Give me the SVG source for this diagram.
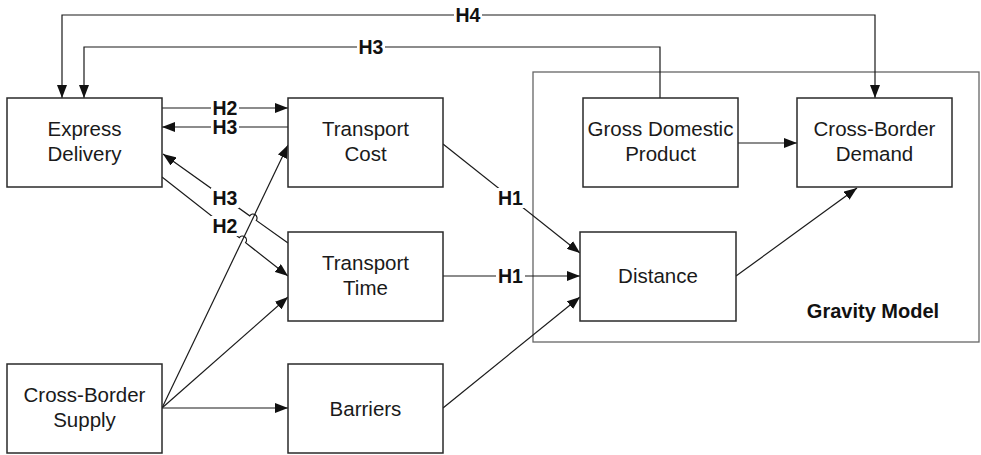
<svg xmlns="http://www.w3.org/2000/svg" width="981" height="455" viewBox="0 0 981 455">
  <defs>
    <marker id="arrow" markerUnits="userSpaceOnUse" markerWidth="14" markerHeight="10" refX="13" refY="5" orient="auto">
      <path d="M0,0 L13,5 L0,10 z" fill="#111"/>
    </marker>
    <style>
      .box { fill: #fff; stroke: #2a2a2a; stroke-width: 1.5; }
      .group { fill: none; stroke: #666; stroke-width: 1.3; }
      .lbl { font-family: "Liberation Sans", Arial, sans-serif; font-size: 20.5px; fill: #1a1a1a; text-anchor: middle; }
      .hyp { font-family: "Liberation Sans", Arial, sans-serif; font-size: 19.5px; font-weight: bold; fill: #111; text-anchor: middle; }
      .title { font-family: "Liberation Sans", Arial, sans-serif; font-size: 20px; font-weight: bold; fill: #111; text-anchor: middle; }
      .edge { fill: none; stroke: #1a1a1a; stroke-width: 1.2; }
      .arr { marker-end: url(#arrow); }
      .pad { fill: #fff; stroke: none; }
    </style>
  </defs>
  <rect width="981" height="455" fill="#fff"/>

  <!-- Gravity model container -->
  <g id="gravity-model">
    <rect class="group" x="533" y="72" width="446" height="270"/>
    <text class="title" x="873" y="318">Gravity Model</text>
  </g>

  <!-- Connectors -->
  <g id="connectors">
    <!-- H4: Cross-Border Demand <-> Express Delivery over the top -->
    <path class="edge arr" d="M468,15 H62 V98"/>
    <path class="edge arr" d="M468,15 H875 V98"/>
    <!-- H3: GDP -> Express Delivery -->
    <path class="edge arr" d="M660,98 V47 H84 V98"/>
    <!-- H2 / H3 between Express Delivery and Transport Cost -->
    <path class="edge arr" d="M162,108 H288"/>
    <path class="edge arr" d="M288,127 H162"/>
    <!-- H3: Transport Time -> Express Delivery, hopping the supply line -->
    <path class="edge arr" d="M288,243 L256.3,220.4 A4,4 0 0 0 249.7,215.8 L163,154"/>
    <!-- H2: Express Delivery -> Transport Time, hopping the supply line -->
    <path class="edge arr" d="M162,177 L239.3,237.7 A4,4 0 0 1 245.6,242.7 L288,276"/>
    <!-- Cross-Border Supply fan-out -->
    <path class="edge arr" d="M162,408 L288,145"/>
    <path class="edge arr" d="M162,408 L288,297"/>
    <path class="edge arr" d="M162,408 H288"/>
    <!-- H1 paths into Distance -->
    <path class="edge arr" d="M443,144 L580,253"/>
    <path class="edge arr" d="M443,276 H580"/>
    <path class="edge arr" d="M443,408 L580,297"/>
    <!-- Inside the gravity model -->
    <path class="edge arr" d="M736,276 L857,188"/>
    <path class="edge arr" d="M738,143 H797"/>

    <!-- Hypothesis labels -->
    <rect class="pad" x="454" y="5" width="28" height="20"/>
    <text class="hyp" x="468" y="22">H4</text>
    <rect class="pad" x="357" y="37" width="28" height="20"/>
    <text class="hyp" x="371" y="54">H3</text>
    <rect class="pad" x="211" y="99" width="28" height="18"/>
    <text class="hyp" x="225" y="115">H2</text>
    <rect class="pad" x="211" y="118" width="28" height="18"/>
    <text class="hyp" x="225" y="134">H3</text>
    <rect class="pad" x="211" y="188" width="28" height="20"/>
    <text class="hyp" x="225" y="205">H3</text>
    <rect class="pad" x="211" y="216" width="28" height="20"/>
    <text class="hyp" x="225" y="233">H2</text>
    <rect class="pad" x="496" y="188" width="29" height="20"/>
    <text class="hyp" x="510.5" y="205">H1</text>
    <rect class="pad" x="496" y="266" width="29" height="20"/>
    <text class="hyp" x="510.5" y="283">H1</text>
  </g>

  <!-- Nodes -->
  <g id="express-delivery">
    <rect class="box" x="7" y="98" width="155" height="89"/>
    <text class="lbl" x="84.5" y="136">Express</text>
    <text class="lbl" x="84.5" y="161">Delivery</text>
  </g>
  <g id="transport-cost">
    <rect class="box" x="288" y="98" width="155" height="89"/>
    <text class="lbl" x="365.5" y="136">Transport</text>
    <text class="lbl" x="365.5" y="161">Cost</text>
  </g>
  <g id="transport-time">
    <rect class="box" x="288" y="232" width="155" height="89"/>
    <text class="lbl" x="365.5" y="269.5">Transport</text>
    <text class="lbl" x="365.5" y="294.5">Time</text>
  </g>
  <g id="cross-border-supply">
    <rect class="box" x="7" y="364" width="155" height="89"/>
    <text class="lbl" x="84.5" y="402">Cross-Border</text>
    <text class="lbl" x="84.5" y="427">Supply</text>
  </g>
  <g id="barriers">
    <rect class="box" x="288" y="364" width="155" height="89"/>
    <text class="lbl" x="365.5" y="415.5">Barriers</text>
  </g>
  <g id="gross-domestic-product">
    <rect class="box" x="583" y="98" width="155" height="89"/>
    <text class="lbl" x="660.5" y="136">Gross Domestic</text>
    <text class="lbl" x="660.5" y="161">Product</text>
  </g>
  <g id="cross-border-demand">
    <rect class="box" x="797" y="98" width="155" height="89"/>
    <text class="lbl" x="874.5" y="136">Cross-Border</text>
    <text class="lbl" x="874.5" y="161">Demand</text>
  </g>
  <g id="distance">
    <rect class="box" x="580" y="232" width="156" height="89"/>
    <text class="lbl" x="658" y="283">Distance</text>
  </g>
</svg>
